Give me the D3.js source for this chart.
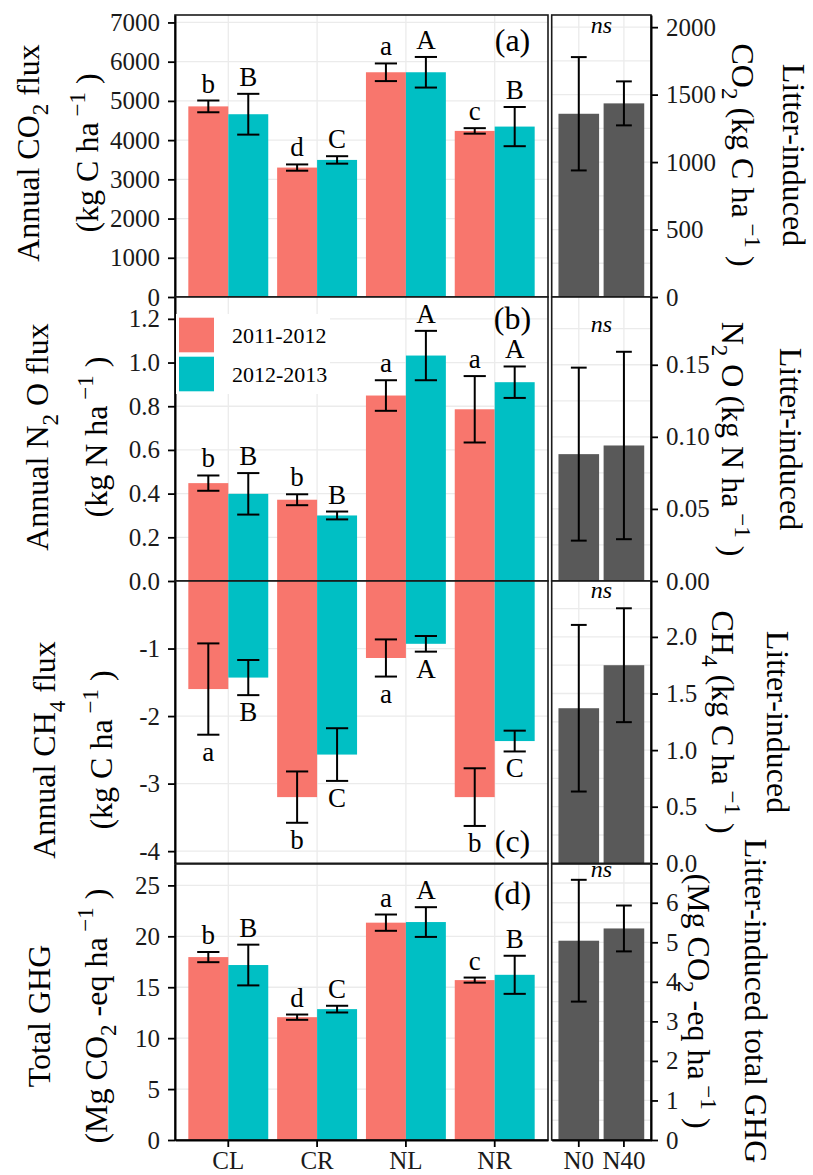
<!DOCTYPE html>
<html>
<head>
<meta charset="utf-8">
<script src="https://cdn.jsdelivr.net/npm/d3@7"></script>
<style>
body { margin: 0; background: #fff; }
svg { display: block; font-family: 'Liberation Serif', 'Times New Roman', serif; }
</style>
</head>
<body>
<div id="chart"></div>
<script>
//Categorías
const categories = ['CL', 'CR', 'NL', 'NR'];
const seasons = ['2011-2012', '2012-2013'];
const litterLevels = ['N0', 'N40'];

//CO2 anual (kg C ha-1)
const co2Mean11 = [4860, 3300, 5730, 4235];
const co2Se11 = [150, 80, 225, 70];
const co2Mean12 = [4660, 3495, 5730, 4345];
const co2Se12 = [520, 95, 390, 500];
const co2Let11 = ['b', 'd', 'a', 'c'];
const co2Let12 = ['B', 'C', 'A', 'B'];
const litterCO2 = [1358, 1435];
const litterCO2Se = [420, 163];

//N2O anual (kg N ha-1)
const n2oMean11 = [0.448, 0.372, 0.849, 0.786];
const n2oSe11 = [0.035, 0.025, 0.07, 0.152];
const n2oMean12 = [0.399, 0.300, 1.032, 0.910];
const n2oSe12 = [0.095, 0.018, 0.113, 0.072];
const n2oLet11 = ['b', 'b', 'a', 'a'];
const n2oLet12 = ['B', 'B', 'A', 'A'];
const litterN2O = [0.088, 0.094];
const litterN2OSe = [0.060, 0.065];

//CH4 anual (kg C ha-1)
const ch4Mean11 = [-1.60, -3.20, -1.14, -3.20];
const ch4Se11 = [0.676, 0.38, 0.275, 0.427];
const ch4Mean12 = [-1.43, -2.57, -0.93, -2.37];
const ch4Se12 = [0.26, 0.39, 0.116, 0.154];
const ch4Let11 = ['a', 'b', 'a', 'b'];
const ch4Let12 = ['B', 'C', 'A', 'C'];
const litterCH4 = [1.37, 1.75];
const litterCH4Se = [0.736, 0.503];

//GHG total (Mg CO2-eq ha-1)
const ghgMean11 = [17.96, 12.06, 21.34, 15.70];
const ghgSe11 = [0.5, 0.26, 0.8, 0.25];
const ghgMean12 = [17.18, 12.85, 21.40, 16.22];
const ghgSe12 = [2.0, 0.33, 1.46, 1.87];
const ghgLet11 = ['b', 'd', 'a', 'c'];
const ghgLet12 = ['B', 'C', 'A', 'B'];
const litterGHG = [5.04, 5.35];
const litterGHGSe = [1.54, 0.58];

//Ticks
const co2Ticks = [0, 1000, 2000, 3000, 4000, 5000, 6000, 7000];
const litterCO2Ticks = [0, 500, 1000, 1500, 2000];
const n2oTicks = [0, 0.2, 0.4, 0.6, 0.8, 1.0, 1.2];
const litterN2OTicks = [0, 0.05, 0.10, 0.15];
const ch4Ticks = [-4, -3, -2, -1];
const litterCH4Ticks = [0, 0.5, 1.0, 1.5, 2.0];
const ghgTicks = [0, 5, 10, 15, 20, 25];
const litterGHGTicks = [0, 1, 2, 3, 4, 5, 6];

//Colores
const COLOR_2011 = '#F8766D',
    COLOR_2012 = '#00BFC4',
    COLOR_LITTER = '#595959',
    COLOR_GRID = '#EBEBEB';

const FONT = "'Liberation Serif', 'Times New Roman', serif";
const MINUS = '\u2212';
const plain = function(d) { return String(d); };

let svg = d3.select('#chart')
    .append('svg')
    .attr('width', 813)
    .attr('height', 1175);

let xMain = d3.scaleBand().domain(categories).range([175, 548]).paddingInner(0).paddingOuter(0.1);
let xSeason = d3.scaleBand().domain(seasons).range([xMain.bandwidth() * 0.05, xMain.bandwidth() * 0.95]);
let xLitter = d3.scaleBand().domain(litterLevels).range([551.7, 651]).paddingInner(0).paddingOuter(0.1);

//Texto con subíndices / superíndices
function richText(sel, parts, fs) {
    let prev = 0;
    parts.forEach(function(p) {
        let shift = p.sub ? 0.3 * fs : (p.sup ? -0.42 * fs : 0);
        sel.append('tspan')
            .attr('dy', shift - prev)
            .attr('font-size', (p.sub || p.sup) ? fs * 0.72 : fs)
            .text(p.t);
        prev = shift;
    });
}

let panels = [
    {
        label: '(a)', labelY: 51, nsY: 33, top: 15, bottom: 297,
        domain: [0, 7190], ticks: co2Ticks, fmt: plain,
        mean: [co2Mean11, co2Mean12], se: [co2Se11, co2Se12], lets: [co2Let11, co2Let12], below: false,
        litter: litterCO2, litterSe: litterCO2Se, rDomain: [0, 2090], rTicks: litterCO2Ticks, rFmt: plain,
        lTitle: [[{t: 'Annual CO'}, {t: '2', sub: true}, {t: ' flux'}], [{t: '(kg C ha'}, {t: ' ' + MINUS + '1', sup: true}, {t: ' )'}]],
        lX: [38.5, 98], lY: 153,
        rTitle: [[{t: 'Litter-induced'}], [{t: 'CO'}, {t: '2', sub: true}, {t: ' (kg C ha'}, {t: ' ' + MINUS + '1', sup: true}, {t: ' )'}]],
        rX: [783, 732], rY: 155
    },
    {
        label: '(b)', labelY: 329, nsY: 331.5, top: 297, bottom: 581,
        domain: [0, 1.3], ticks: n2oTicks, fmt: d3.format('.1f'),
        mean: [n2oMean11, n2oMean12], se: [n2oSe11, n2oSe12], lets: [n2oLet11, n2oLet12], below: false,
        litter: litterN2O, litterSe: litterN2OSe, rDomain: [0, 0.197], rTicks: litterN2OTicks, rFmt: d3.format('.2f'),
        lTitle: [[{t: 'Annual N'}, {t: '2', sub: true}, {t: ' O flux'}], [{t: '(kg N ha'}, {t: ' ' + MINUS + '1', sup: true}, {t: ' )'}]],
        lX: [48, 106.5], lY: 437,
        rTitle: [[{t: 'Litter-induced'}], [{t: 'N'}, {t: '2', sub: true}, {t: ' O (kg N ha'}, {t: ' ' + MINUS + '1', sup: true}, {t: ' )'}]],
        rX: [780, 722], rY: 439
    },
    {
        label: '(c)', labelY: 852, nsY: 598, top: 581, bottom: 863.3,
        domain: [-4.18, 0], ticks: ch4Ticks, fmt: plain,
        mean: [ch4Mean11, ch4Mean12], se: [ch4Se11, ch4Se12], lets: [ch4Let11, ch4Let12], below: true,
        litter: litterCH4, litterSe: litterCH4Se, rDomain: [0, 2.494], rTicks: litterCH4Ticks, rFmt: d3.format('.1f'),
        lTitle: [[{t: 'Annual CH'}, {t: '4', sub: true}, {t: ' flux'}], [{t: '(kg C ha'}, {t: ' ' + MINUS + '1', sup: true}, {t: ' )'}]],
        lX: [55, 111.5], lY: 750,
        rTitle: [[{t: 'Litter-induced'}], [{t: 'CH'}, {t: '4', sub: true}, {t: ' (kg C ha'}, {t: ' ' + MINUS + '1', sup: true}, {t: ' )'}]],
        rX: [767, 712], rY: 722
    },
    {
        label: '(d)', labelY: 904, nsY: 877, top: 864, bottom: 1140,
        domain: [0, 27.1], ticks: ghgTicks, fmt: plain,
        mean: [ghgMean11, ghgMean12], se: [ghgSe11, ghgSe12], lets: [ghgLet11, ghgLet12], below: false,
        litter: litterGHG, litterSe: litterGHGSe, rDomain: [0, 6.98], rTicks: litterGHGTicks, rFmt: plain,
        lTitle: [[{t: 'Total GHG'}], [{t: '(Mg CO'}, {t: '2', sub: true}, {t: ' -eq ha'}, {t: ' ' + MINUS + '1', sup: true}, {t: ' )'}]],
        lX: [50, 106.5], lY: 1016,
        rTitle: [[{t: 'Litter-induced total GHG'}], [{t: '(Mg CO'}, {t: '2', sub: true}, {t: ' -eq ha'}, {t: ' ' + MINUS + '1', sup: true}, {t: ' )'}]],
        rX: [745, 688], rY: 1001
    }
];

function styleAxis(g) {
    g.attr('font-family', FONT);
    g.selectAll('.domain').attr('stroke', '#000').attr('stroke-width', 2);
    g.selectAll('.tick line').attr('stroke', '#000').attr('stroke-width', 1.8);
    g.selectAll('.tick text').attr('fill', '#1a1a1a').attr('font-size', 25).attr('font-family', FONT);
}

panels.forEach(function(p, pi) {
    let y = d3.scaleLinear().domain(p.domain).range([p.bottom, p.top]);
    let yR = d3.scaleLinear().domain(p.rDomain).range([p.bottom, p.top]);
    let x0 = xMain.range()[0], x1 = xMain.range()[1];
    let r0 = xLitter.range()[0], r1 = xLitter.range()[1];

    ///Panel izquierdo
    let gL = svg.append('g');
    gL.append('rect').attr('x', x0).attr('y', p.top).attr('width', x1 - x0).attr('height', p.bottom - p.top).attr('fill', '#fff');

    gL.selectAll('.hgrid').data(p.ticks.filter(function(t) { return y(t) > p.top + 0.5 && y(t) < p.bottom - 0.5; }))
        .enter().append('line')
        .attr('x1', x0).attr('x2', x1)
        .attr('y1', function(d) { return y(d); }).attr('y2', function(d) { return y(d); })
        .attr('stroke', COLOR_GRID).attr('stroke-width', 1.3);
    gL.selectAll('.vgrid').data(categories).enter().append('line')
        .attr('x1', function(d) { return xMain(d) + xMain.bandwidth() / 2; })
        .attr('x2', function(d) { return xMain(d) + xMain.bandwidth() / 2; })
        .attr('y1', p.top).attr('y2', p.bottom)
        .attr('stroke', COLOR_GRID).attr('stroke-width', 1.3);

    seasons.forEach(function(s, si) {
        let rows = categories.map(function(c, i) {
            return { cat: c, m: p.mean[si][i], se: p.se[si][i], lab: p.lets[si][i] };
        });
        let color = si === 0 ? COLOR_2011 : COLOR_2012;
        let cx = function(d) { return xMain(d.cat) + xSeason(s) + xSeason.bandwidth() / 2; };

        gL.append('g').selectAll('rect').data(rows).enter().append('rect')
            .attr('fill', color)
            .attr('x', function(d) { return xMain(d.cat) + xSeason(s); })
            .attr('width', xSeason.bandwidth())
            .attr('y', function(d) { return Math.min(y(0), y(d.m)); })
            .attr('height', function(d) { return Math.abs(y(d.m) - y(0)); });

        let capW = xMain.bandwidth() * 0.25;
        let eb = gL.append('g').selectAll('g').data(rows).enter().append('g');
        eb.append('line')
            .attr('x1', cx).attr('x2', cx)
            .attr('y1', function(d) { return y(d.m - d.se); }).attr('y2', function(d) { return y(d.m + d.se); })
            .attr('stroke', '#000').attr('stroke-width', 2);
        [-1, 1].forEach(function(k) {
            eb.append('line')
                .attr('x1', function(d) { return cx(d) - capW / 2; }).attr('x2', function(d) { return cx(d) + capW / 2; })
                .attr('y1', function(d) { return y(d.m + k * d.se); }).attr('y2', function(d) { return y(d.m + k * d.se); })
                .attr('stroke', '#000').attr('stroke-width', 2);
        });
        eb.append('text')
            .attr('x', cx)
            .attr('y', function(d) { return p.below ? y(d.m - d.se) + 26 : y(d.m + d.se) - 8; })
            .attr('text-anchor', 'middle').attr('font-size', 27).attr('fill', '#000')
            .text(function(d) { return d.lab; });
    });

    gL.append('rect').attr('x', x0).attr('y', p.top).attr('width', x1 - x0).attr('height', p.bottom - p.top)
        .attr('fill', 'none').attr('stroke', '#1a1a1a').attr('stroke-width', 1.6);

    gL.append('text').attr('x', 512.5).attr('y', p.labelY).attr('text-anchor', 'middle')
        .attr('font-size', 32).attr('fill', '#000').text(p.label);

    let axL = gL.append('g').attr('transform', 'translate(' + x0 + ',0)')
        .call(d3.axisLeft(y).tickValues(p.ticks).tickFormat(p.fmt).tickSize(7).tickPadding(8).tickSizeOuter(0));
    styleAxis(axL);

    if (pi === 3) {
        let axB = gL.append('g').attr('transform', 'translate(0,' + p.bottom + ')')
            .call(d3.axisBottom(xMain).tickSize(7).tickPadding(4).tickSizeOuter(0));
        styleAxis(axB);
    }

    ///Panel derecho (hojarasca)
    let gR = svg.append('g');
    gR.append('rect').attr('x', r0).attr('y', p.top).attr('width', r1 - r0).attr('height', p.bottom - p.top).attr('fill', '#fff');
    let rStep = p.rTicks[1] - p.rTicks[0];
    let rGrid = d3.range(p.rTicks[0], p.rDomain[1], rStep / 2).map(function(v) { return +v.toFixed(6); });
    gR.selectAll('.hgrid').data(rGrid.filter(function(t) { return yR(t) > p.top + 0.5 && yR(t) < p.bottom - 0.5; }))
        .enter().append('line')
        .attr('x1', r0).attr('x2', r1)
        .attr('y1', function(d) { return yR(d); }).attr('y2', function(d) { return yR(d); })
        .attr('stroke', COLOR_GRID).attr('stroke-width', 1.3);
    gR.selectAll('.vgrid').data(litterLevels).enter().append('line')
        .attr('x1', function(d) { return xLitter(d) + xLitter.bandwidth() / 2; })
        .attr('x2', function(d) { return xLitter(d) + xLitter.bandwidth() / 2; })
        .attr('y1', p.top).attr('y2', p.bottom)
        .attr('stroke', COLOR_GRID).attr('stroke-width', 1.3);

    let lrows = litterLevels.map(function(l, i) { return { lev: l, m: p.litter[i], se: p.litterSe[i] }; });
    let lcx = function(d) { return xLitter(d.lev) + xLitter.bandwidth() / 2; };
    let bw = xLitter.bandwidth() * 0.9;
    gR.append('g').selectAll('rect').data(lrows).enter().append('rect')
        .attr('fill', COLOR_LITTER)
        .attr('x', function(d) { return lcx(d) - bw / 2; })
        .attr('width', bw)
        .attr('y', function(d) { return yR(d.m); })
        .attr('height', function(d) { return yR(0) - yR(d.m); });
    let capR = xLitter.bandwidth() * 0.35;
    let ebR = gR.append('g').selectAll('g').data(lrows).enter().append('g');
    ebR.append('line')
        .attr('x1', lcx).attr('x2', lcx)
        .attr('y1', function(d) { return yR(d.m - d.se); }).attr('y2', function(d) { return yR(d.m + d.se); })
        .attr('stroke', '#000').attr('stroke-width', 2);
    [-1, 1].forEach(function(k) {
        ebR.append('line')
            .attr('x1', function(d) { return lcx(d) - capR / 2; }).attr('x2', function(d) { return lcx(d) + capR / 2; })
            .attr('y1', function(d) { return yR(d.m + k * d.se); }).attr('y2', function(d) { return yR(d.m + k * d.se); })
            .attr('stroke', '#000').attr('stroke-width', 2);
    });

    gR.append('rect').attr('x', r0).attr('y', p.top).attr('width', r1 - r0).attr('height', p.bottom - p.top)
        .attr('fill', 'none').attr('stroke', '#1a1a1a').attr('stroke-width', 1.6);

    gR.append('text').attr('x', (r0 + r1) / 2).attr('y', p.nsY).attr('text-anchor', 'middle')
        .attr('font-size', 24).attr('font-style', 'italic').attr('fill', '#000').text('ns');

    let axR = gR.append('g').attr('transform', 'translate(' + r1 + ',0)')
        .call(d3.axisRight(yR).tickValues(p.rTicks).tickFormat(p.rFmt).tickSize(7).tickPadding(8).tickSizeOuter(0));
    styleAxis(axR);

    if (pi === 3) {
        let axBR = gR.append('g').attr('transform', 'translate(0,' + p.bottom + ')')
            .call(d3.axisBottom(xLitter).tickSize(7).tickPadding(4).tickSizeOuter(0));
        styleAxis(axBR);
    }

    ///Títulos de ejes
    p.lTitle.forEach(function(parts, li) {
        let t = svg.append('text')
            .attr('transform', 'translate(' + p.lX[li] + ',' + p.lY + ') rotate(-90)')
            .attr('text-anchor', 'middle').attr('font-size', 32).attr('fill', '#000');
        richText(t, parts, 32);
    });
    p.rTitle.forEach(function(parts, li) {
        let t = svg.append('text')
            .attr('transform', 'translate(' + p.rX[li] + ',' + p.rY + ') rotate(90)')
            .attr('text-anchor', 'middle').attr('font-size', 32).attr('fill', '#000');
        richText(t, parts, 32);
    });
});

//Leyenda dentro del panel (b)
let leg = svg.append('g');
leg.append('rect').attr('x', 176).attr('y', 314).attr('width', 154).attr('height', 80).attr('fill', '#fff');
seasons.forEach(function(s, i) {
    leg.append('rect').attr('x', 179).attr('y', 317.7 + i * 39).attr('width', 35).attr('height', 34.6)
        .attr('fill', i === 0 ? COLOR_2011 : COLOR_2012);
    leg.append('text').attr('x', 232).attr('y', 335 + i * 39).attr('dy', '0.35em')
        .attr('font-size', 22).attr('fill', '#000').text(s);
});
</script>
</body>
</html>
